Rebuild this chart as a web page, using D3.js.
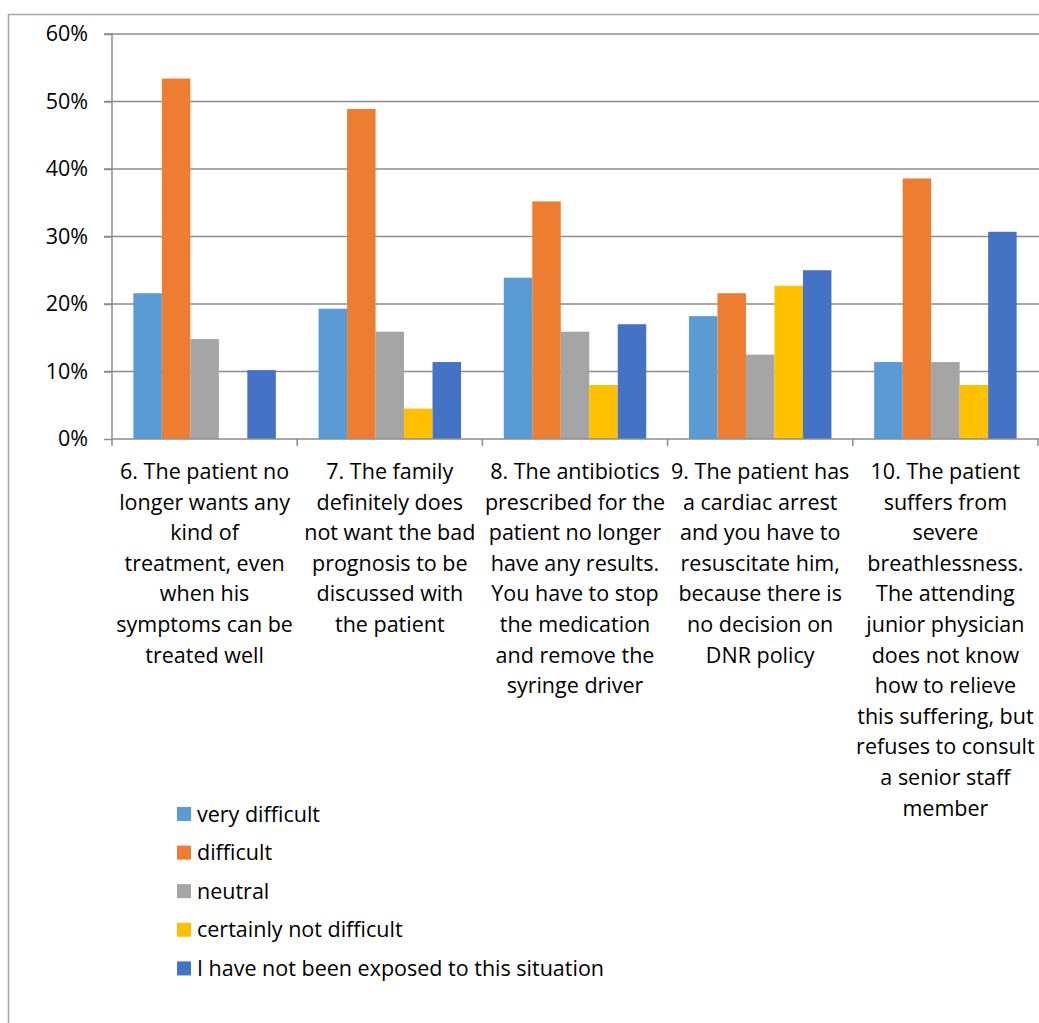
<!DOCTYPE html>
<html>
<head>
<meta charset="utf-8">
<script src="https://cdn.jsdelivr.net/npm/d3@7"></script>
<style>
  html, body { margin: 0; padding: 0; background: #fff; }
  svg { display: block; }
  text { font-family: "Open Sans", "Noto Sans", sans-serif; fill: #000; }
</style>
</head>
<body>
<svg id="chart" width="1039" height="1023"></svg>
<script>
// ---- data ----
const categories = ["6", "7", "8", "9", "10"];
const categoryLabels = [
  ["6. The patient no", "longer wants any", "kind of", "treatment, even", "when his", "symptoms can be", "treated well"],
  ["7. The family", "definitely does", "not want the bad", "prognosis to be", "discussed with", "the patient"],
  ["8. The antibiotics", "prescribed for the", "patient no longer", "have any results.", "You have to stop", "the medication", "and remove the", "syringe driver"],
  ["9. The patient has", "a cardiac arrest", "and you have to", "resuscitate him,", "because there is", "no decision on", "DNR policy"],
  ["10. The patient", "suffers from", "severe", "breathlessness.", "The attending", "junior physician", "does not know", "how to relieve", "this suffering, but", "refuses to consult", "a senior staff", "member"]
];
const seriesNames = ["very difficult", "difficult", "neutral", "certainly not difficult", "I have not been exposed to this situation"];
const seriesColors = ["#5B9BD5", "#ED7D31", "#A5A5A5", "#FFC000", "#4472C4"];
const veryDifficult   = [21.6, 19.3, 23.9, 18.2, 11.4];
const difficult       = [53.4, 48.9, 35.2, 21.6, 38.6];
const neutral         = [14.8, 15.9, 15.9, 12.5, 11.4];
const certainlyNot    = [0.0, 4.5, 8.0, 22.7, 8.0];
const notExposed      = [10.2, 11.4, 17.0, 25.0, 30.7];
const seriesValues = [veryDifficult, difficult, neutral, certainlyNot, notExposed];
const yTicks = [0, 10, 20, 30, 40, 50, 60];

// ---- layout ----
const svg = d3.select("#chart");
const plot = { left: 112, right: 1038, top: 34, bottom: 439 };
const fontSize = "21.5px";

// outer chart border
svg.append("rect")
  .attr("x", 8.5).attr("y", 14.5)
  .attr("width", 1100).attr("height", 1100)
  .attr("fill", "none").attr("stroke", "#a6a6a6").attr("stroke-width", 1.5);

const x0 = d3.scaleBand().domain(categories).range([plot.left, plot.right]).paddingInner(0).paddingOuter(0);
const x1 = d3.scaleBand().domain(d3.range(seriesNames.length)).range([0, x0.bandwidth()]).paddingOuter(0.75).paddingInner(0);
const y = d3.scaleLinear().domain([0, 60]).range([plot.bottom, plot.top]);

// gridlines
svg.append("g")
  .selectAll("line").data(yTicks.filter(t => t > 0)).join("line")
  .attr("x1", plot.left - 8).attr("x2", plot.right + 1)
  .attr("y1", d => y(d)).attr("y2", d => y(d))
  .attr("stroke", "#8c8c8c").attr("stroke-width", 1.5);

// bars
const cats = svg.append("g").selectAll("g").data(categories).join("g")
  .attr("transform", d => `translate(${x0(d)},0)`);
cats.selectAll("rect")
  .data((d, ci) => seriesValues.map((vals, si) => ({ si, v: vals[ci] })))
  .join("rect")
  .attr("x", d => x1(d.si))
  .attr("width", x1.bandwidth())
  .attr("y", d => y(d.v))
  .attr("height", d => y(0) - y(d.v))
  .attr("fill", d => seriesColors[d.si]);

// y axis
const yAxis = svg.append("g")
  .attr("transform", `translate(${plot.left},0)`)
  .call(d3.axisLeft(y).tickValues(yTicks).tickFormat(d => d + "%").tickSize(8).tickPadding(16));
yAxis.select(".domain").attr("stroke", "#8c8c8c").attr("stroke-width", 1.5).attr("d", `M0,${plot.top}V${plot.bottom}`);
yAxis.selectAll(".tick line").attr("stroke", "#8c8c8c").attr("stroke-width", 1.5);
yAxis.selectAll(".tick text").style("font-size", fontSize).attr("fill", "#000");

// x axis
const xAxis = svg.append("g")
  .attr("transform", `translate(0,${plot.bottom})`)
  .call(d3.axisBottom(x0).tickValues([]).tickSize(0));
xAxis.select(".domain").attr("stroke", "#8c8c8c").attr("stroke-width", 1.5)
  .attr("d", `M${plot.left},0H${plot.right + 1}`);
const boundaries = categories.map(c => x0(c)).concat([x0(categories[categories.length - 1]) + x0.bandwidth()]);
xAxis.selectAll("line.sep").data(boundaries).join("line")
  .attr("class", "sep")
  .attr("x1", d => d).attr("x2", d => d)
  .attr("y1", 0).attr("y2", 7)
  .attr("stroke", "#8c8c8c").attr("stroke-width", 1.5);

// category labels
const lineH = 30.6;
svg.append("g").selectAll("text").data(categories).join("text")
  .attr("text-anchor", "middle")
  .style("font-size", fontSize)
  .each(function(d, i) {
    const t = d3.select(this);
    const cx = x0(d) + x0.bandwidth() / 2;
    categoryLabels[i].forEach((ln, j) => {
      t.append("tspan").attr("x", cx).attr("y", 479 + j * lineH).text(ln);
    });
  });

// legend
const legend = svg.append("g").selectAll("g").data(seriesNames).join("g")
  .attr("transform", (d, i) => `translate(177,${814 + i * 38.6})`);
legend.append("rect")
  .attr("x", 0).attr("y", -7).attr("width", 14).attr("height", 14)
  .attr("fill", (d, i) => seriesColors[i]);
legend.append("text")
  .attr("x", 20).attr("y", 7.5)
  .style("font-size", fontSize)
  .text(d => d);
</script>
</body>
</html>
